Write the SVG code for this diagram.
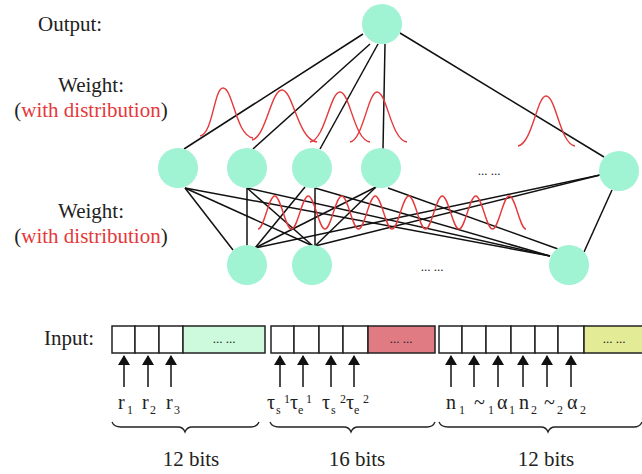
<svg xmlns="http://www.w3.org/2000/svg" width="642" height="474" viewBox="0 0 642 474" font-family="'Liberation Serif', 'Times New Roman', Times, 'DejaVu Serif', serif">
  <defs>
    <style>
      text, tspan { font-family: 'Liberation Serif', 'Times New Roman', Times, 'DejaVu Serif', serif; }
      .label { font-size: 21px; fill: #222; }
      .red { fill: #e5383b; }
      .dots { font-size: 13px; fill: #222; text-anchor: middle; }
      .sym { font-size: 20px; fill: #222; }
      .small { font-size: 12px; }
      .node { fill: #a0f3d3; }
      .edge { stroke: #111; stroke-width: 1.5; fill: none; }
      .dist { stroke: #e5383b; stroke-width: 1.4; fill: none; }
      .cell { stroke: #222; stroke-width: 1.5; fill: #fff; }
      .arrow { stroke: #111; stroke-width: 1.5; marker-end: url(#head); }
      .brace { stroke: #222; stroke-width: 1.3; fill: none; }
    </style>
    <marker id="head" viewBox="0 0 10 12" refX="9" refY="6" markerWidth="10" markerHeight="12" markerUnits="userSpaceOnUse" orient="auto">
      <path d="M0,0 L10,6 L0,12 Z" fill="#111"/>
    </marker>
  </defs>

  <!-- side captions -->
  <text class="label" x="38" y="31">Output:</text>
  <text class="label" x="91" y="92" text-anchor="middle">Weight:</text>
  <text class="label" x="91" y="117" text-anchor="middle">(<tspan class="red">with distribution</tspan>)</text>
  <text class="label" x="91" y="218" text-anchor="middle">Weight:</text>
  <text class="label" x="91" y="243" text-anchor="middle">(<tspan class="red">with distribution</tspan>)</text>

  <!-- connectors -->
  <g id="connectors">
    <!-- output to hidden layer -->
    <line class="edge" x1="363" y1="34" x2="184" y2="149"/>
    <line class="edge" x1="370" y1="44" x2="253" y2="149"/>
    <line class="edge" x1="378" y1="44" x2="320" y2="149"/>
    <line class="edge" x1="385" y1="44" x2="383" y2="149"/>
    <line class="edge" x1="400" y1="33" x2="604" y2="157"/>
    <!-- hidden layer to input layer -->
    <line class="edge" x1="185" y1="188" x2="233" y2="250"/>
    <line class="edge" x1="185" y1="188" x2="313" y2="246"/>
    <line class="edge" x1="185" y1="188" x2="550" y2="256"/>
    <line class="edge" x1="247" y1="188" x2="247" y2="246"/>
    <line class="edge" x1="247" y1="188" x2="313" y2="246"/>
    <line class="edge" x1="247" y1="188" x2="550" y2="256"/>
    <line class="edge" x1="305" y1="187" x2="255" y2="248"/>
    <line class="edge" x1="315" y1="188" x2="315" y2="246"/>
    <line class="edge" x1="315" y1="188" x2="550" y2="256"/>
    <line class="edge" x1="376" y1="187" x2="255" y2="248"/>
    <line class="edge" x1="376" y1="187" x2="315" y2="246"/>
    <line class="edge" x1="388" y1="188" x2="558" y2="249"/>
    <line class="edge" x1="600" y1="175" x2="255" y2="248"/>
    <line class="edge" x1="600" y1="175" x2="315" y2="246"/>
    <line class="edge" x1="612" y1="190" x2="584" y2="252"/>
  </g>

  <!-- weight distributions, upper layer -->
  <path class="dist" d="M200,136 C213,134 214,88 223,88 C233,88 236,136 253,138"/>
  <path class="dist" d="M252,140 C266,137 271,90 282,90 C293,90 298,140 317,142"/>
  <path class="dist" d="M310,142 C325,140 330,92 340,92 C350,92 354,140 370,142"/>
  <path class="dist" d="M350,142 C363,140 368,92 377,92 C387,92 391,140 407,142"/>
  <path class="dist" d="M518,146 C532,144 537,96 546,96 C556,96 560,144 575,146"/>

  <!-- weight distributions, lower layer -->
  <path class="dist" d="M258,229 C264.09,229 268.66,196 274.75,196 S285.41,229 291.5,229 S302.16,196 308.25,196 S318.91,229 325,229 S335.66,196 341.75,196 S352.41,229 358.5,229 S369.16,196 375.25,196 S385.91,229 392,229 S402.66,196 408.75,196 S419.41,229 425.5,229 S436.16,196 442.25,196 S452.91,229 459,229 S469.66,196 475.75,196 S486.41,229 492.5,229 S503.16,196 509.25,196 S519.91,229 526,229"/>

  <!-- output layer -->
  <g id="out"><circle class="node" cx="382" cy="24" r="20"/></g>

  <!-- hidden layer -->
  <g id="h1"><circle class="node" cx="178" cy="168" r="20"/></g>
  <g id="h2"><circle class="node" cx="247" cy="168" r="20"/></g>
  <g id="h3"><circle class="node" cx="312" cy="168" r="20"/></g>
  <g id="h4"><circle class="node" cx="381" cy="168" r="20"/></g>
  <g id="h-more"><text class="dots" x="489" y="175">... ...</text></g>
  <g id="h5"><circle class="node" cx="619" cy="171" r="20"/></g>

  <!-- input layer -->
  <g id="i1"><circle class="node" cx="247" cy="265" r="20"/></g>
  <g id="i2"><circle class="node" cx="312" cy="265" r="20"/></g>
  <g id="i-more"><text class="dots" x="432" y="271">... ...</text></g>
  <g id="i3"><circle class="node" cx="569" cy="265" r="20"/></g>

  <!-- input encoding -->
  <text class="label" x="44" y="345">Input:</text>

  <g id="field-r">
    <rect class="cell" x="112" y="326" width="23" height="27"/>
    <rect class="cell" x="135" y="326" width="24" height="27"/>
    <rect class="cell" x="159" y="326" width="24" height="27"/>
    <rect class="cell" x="183" y="326" width="82" height="27" style="fill:#cdfadd"/>
    <text class="dots" x="224" y="343">... ...</text>
  </g>
  <g id="field-tau">
    <rect class="cell" x="271" y="326" width="23" height="27"/>
    <rect class="cell" x="294" y="326" width="25" height="27"/>
    <rect class="cell" x="319" y="326" width="24" height="27"/>
    <rect class="cell" x="343" y="326" width="25" height="27"/>
    <rect class="cell" x="368" y="326" width="67" height="27" style="fill:#e07b84"/>
    <text class="dots" x="401" y="343">... ...</text>
  </g>
  <g id="field-n">
    <rect class="cell" x="439" y="326" width="23" height="27"/>
    <rect class="cell" x="462" y="326" width="24" height="27"/>
    <rect class="cell" x="486" y="326" width="25" height="27"/>
    <rect class="cell" x="511" y="326" width="24" height="27"/>
    <rect class="cell" x="535" y="326" width="23" height="27"/>
    <rect class="cell" x="558" y="326" width="26" height="27"/>
    <rect class="cell" x="584" y="326" width="62" height="27" style="fill:#e3eb96"/>
    <text class="dots" x="614" y="343">... ...</text>
  </g>

  <!-- pointer arrows -->
  <g id="pointers">
    <line class="arrow" x1="124" y1="387" x2="124" y2="356"/>
    <line class="arrow" x1="148" y1="387" x2="148" y2="356"/>
    <line class="arrow" x1="171" y1="387" x2="171" y2="356"/>
    <line class="arrow" x1="280" y1="387" x2="280" y2="356"/>
    <line class="arrow" x1="303" y1="387" x2="303" y2="356"/>
    <line class="arrow" x1="331" y1="387" x2="331" y2="356"/>
    <line class="arrow" x1="354" y1="387" x2="354" y2="356"/>
    <line class="arrow" x1="451" y1="387" x2="451" y2="356"/>
    <line class="arrow" x1="474" y1="387" x2="474" y2="356"/>
    <line class="arrow" x1="498" y1="387" x2="498" y2="356"/>
    <line class="arrow" x1="523" y1="387" x2="523" y2="356"/>
    <line class="arrow" x1="547" y1="387" x2="547" y2="356"/>
    <line class="arrow" x1="571" y1="387" x2="571" y2="356"/>
  </g>

  <!-- field symbols -->
  <g class="sym">
    <text x="118" y="409">r<tspan class="small" x="127" y="414">1</tspan></text>
    <text x="142" y="409">r<tspan class="small" x="150" y="414">2</tspan></text>
    <text x="166" y="409">r<tspan class="small" x="174" y="414">3</tspan></text>

    <text x="267" y="409">τ<tspan class="small" x="276" y="414">s</tspan><tspan class="small" x="284" y="403">1</tspan></text>
    <text x="290" y="409">τ<tspan class="small" x="298" y="414">e</tspan><tspan class="small" x="306" y="403">1</tspan></text>
    <text x="322" y="409">τ<tspan class="small" x="331" y="414">s</tspan><tspan class="small" x="340" y="403">2</tspan></text>
    <text x="346" y="409">τ<tspan class="small" x="354" y="414">e</tspan><tspan class="small" x="363" y="403">2</tspan></text>

    <text x="446" y="409">n<tspan class="small" x="459" y="414">1</tspan></text>
    <text x="474" y="409">~<tspan class="small" x="488" y="414">1</tspan></text>
    <text x="497" y="409">α<tspan class="small" x="509" y="414">1</tspan></text>
    <text x="519" y="409">n<tspan class="small" x="531" y="414">2</tspan></text>
    <text x="544" y="409">~<tspan class="small" x="557" y="414">2</tspan></text>
    <text x="567" y="409">α<tspan class="small" x="580" y="414">2</tspan></text>
  </g>

  <!-- braces -->
  <path class="brace" d="M112,422 Q114,427 121,427 L178,427 Q183,427 185,432 Q187,427 192,427 L251,427 Q257,427 259,422"/>
  <path class="brace" d="M270,422 Q272,427 279,427 L344,427 Q349,427 351,432 Q353,427 358,427 L427,427 Q433,427 435,422"/>
  <path class="brace" d="M439,422 Q441,427 448,427 L541,427 Q546,427 548,432 Q550,427 555,427 L634,427 Q640,427 642,422"/>

  <text class="label" x="191" y="466" text-anchor="middle">12 bits</text>
  <text class="label" x="357" y="466" text-anchor="middle">16 bits</text>
  <text class="label" x="546" y="466" text-anchor="middle">12 bits</text>
</svg>
